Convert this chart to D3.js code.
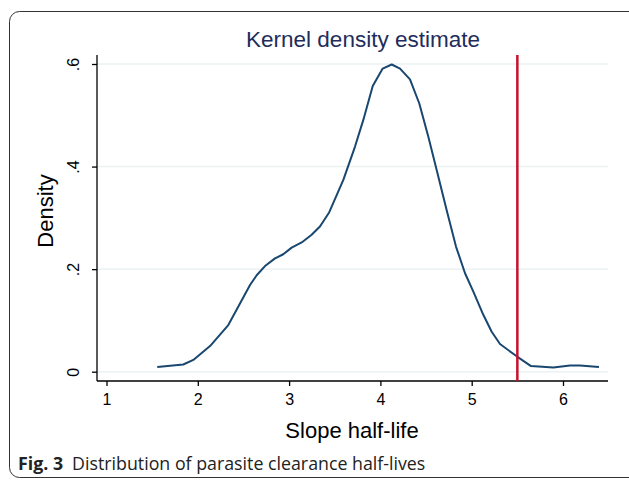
<!DOCTYPE html>
<html lang="en">
<head>
    <meta charset="UTF-8">
    <title>Kernel density estimate</title>
    <script src="https://d3js.org/d3.v7.min.js" charset="utf-8"></script>
    <style>
        body {
            margin: 0;
            background: white;
        }
        svg {
            display: block;
        }
    </style>
</head>
<body>
    <script>
        // density curve
        var halfLife = [1.556, 1.841, 1.951, 2.134, 2.334, 2.462, 2.572, 2.645, 2.736, 2.846,
                        2.936, 3.028, 3.138, 3.247, 3.338, 3.44, 3.594, 3.722, 3.813, 3.916,
                        4.025, 4.124, 4.215, 4.324, 4.426, 4.525, 4.617, 4.726, 4.828, 4.927,
                        5.018, 5.127, 5.219, 5.31, 5.493, 5.65, 5.894, 6.077, 6.186, 6.394];
        var density = [0.009, 0.014, 0.023, 0.050, 0.091, 0.133, 0.169, 0.188, 0.206, 0.221,
                       0.229, 0.242, 0.252, 0.267, 0.283, 0.311, 0.374, 0.439, 0.491, 0.557,
                       0.591, 0.599, 0.591, 0.570, 0.523, 0.458, 0.393, 0.315, 0.244, 0.192,
                       0.156, 0.111, 0.078, 0.054, 0.030, 0.011, 0.008, 0.012, 0.012, 0.009];
        var cutoff = 5.5;
        var xTicks = [1, 2, 3, 4, 5, 6];
        var yTicks = [0, 0.2, 0.4, 0.6];
        var yTickLabels = ["0", ".2", ".4", ".6"];

        var width = 629;
        var height = 482;
        var font = "'Liberation Sans', Arial, sans-serif";

        var svg = d3.select("body")
                    .append("svg")
                    .attr("width", width)
                    .attr("height", height);

        // outer panel frame (runs off the right edge)
        svg.append("rect")
            .attr("x", 9.5)
            .attr("y", 11.5)
            .attr("width", 640)
            .attr("height", 466)
            .attr("rx", 10)
            .attr("fill", "white")
            .attr("stroke", "#333")
            .attr("stroke-width", 1);

        var x = d3.scaleLinear().domain([1, 6]).range([106.5, 563]);
        var y = d3.scaleLinear().domain([0, 0.6]).range([371.7, 64]);

        var plotLeft = 97, plotRight = 608, plotTop = 55, plotBottom = 381;

        // gridlines
        svg.append("g")
            .selectAll("line")
            .data(yTicks)
            .enter()
            .append("line")
            .attr("x1", plotLeft)
            .attr("x2", plotRight)
            .attr("y1", function (d) { return y(d); })
            .attr("y2", function (d) { return y(d); })
            .attr("stroke", "#eaf2f3")
            .attr("stroke-width", 1.5);

        // y axis, labels turned sideways like Stata does
        var yAxis = svg.append("g")
            .attr("transform", "translate(" + plotLeft + ",0)")
            .call(d3.axisLeft(y).tickValues(yTicks)
                .tickFormat(function (d, i) { return yTickLabels[i]; })
                .tickSize(5));
        yAxis.select(".domain").attr("d", "M0," + plotTop + "V" + plotBottom);
        yAxis.selectAll(".tick text")
            .attr("x", 0)
            .attr("y", 0)
            .attr("dy", 0)
            .attr("transform", "translate(-18,0) rotate(-90)")
            .style("text-anchor", "middle");

        // x axis
        var xAxis = svg.append("g")
            .attr("transform", "translate(0," + plotBottom + ")")
            .call(d3.axisBottom(x).tickValues(xTicks)
                .tickFormat(d3.format("d"))
                .tickSize(5).tickPadding(8));
        xAxis.select(".domain").attr("d", "M" + plotLeft + ",0H" + plotRight);

        svg.selectAll(".domain, .tick line")
            .attr("stroke", "#000")
            .attr("stroke-width", 1.3);
        svg.selectAll(".tick text")
            .attr("fill", "#000")
            .attr("font-family", font)
            .attr("font-size", 16);

        // density line
        var line = d3.line()
            .x(function (d, i) { return x(halfLife[i]); })
            .y(function (d) { return y(d); });

        svg.append("path")
            .datum(density)
            .attr("fill", "none")
            .attr("stroke", "#1a476f")
            .attr("stroke-width", 2)
            .attr("stroke-linejoin", "round")
            .attr("d", line);

        // cutoff line
        svg.append("line")
            .attr("x1", x(cutoff))
            .attr("x2", x(cutoff))
            .attr("y1", plotTop)
            .attr("y2", plotBottom)
            .attr("stroke", "#c8102e")
            .attr("stroke-width", 2.5);

        // titles
        svg.append("text")
            .attr("x", 363)
            .attr("y", 47)
            .attr("text-anchor", "middle")
            .attr("fill", "#1e2d5c")
            .style("font-family", font)
            .style("font-size", "22.5px")
            .text("Kernel density estimate");

        svg.append("text")
            .attr("transform", "translate(53,211) rotate(-90)")
            .attr("text-anchor", "middle")
            .attr("fill", "#000")
            .style("font-family", font)
            .style("font-size", "22px")
            .text("Density");

        svg.append("text")
            .attr("x", 352)
            .attr("y", 438)
            .attr("text-anchor", "middle")
            .attr("fill", "#000")
            .style("font-family", font)
            .style("font-size", "22px")
            .text("Slope half-life");

        // figure caption
        var cap = svg.append("text")
            .attr("x", 18)
            .attr("y", 470)
            .style("font-family", "'Open Sans', sans-serif")
            .style("font-size", "17.8px")
            .attr("fill", "#222");
        cap.append("tspan").style("font-weight", "bold").text("Fig. 3");
        cap.append("tspan").attr("dx", 9).text("Distribution of parasite clearance half-lives");
    </script>
</body>
</html>
